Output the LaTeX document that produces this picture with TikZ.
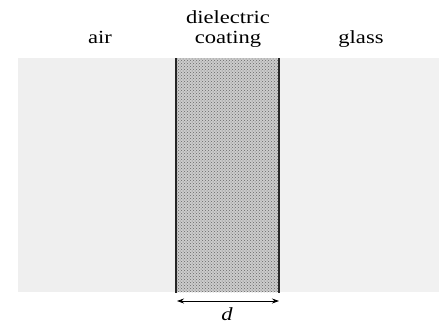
\documentclass[tikz,border=0pt]{standalone}
\usepackage{fontspec}
\newfontfamily\tms{Liberation Serif}
\usetikzlibrary{arrows.meta,patterns}
\definecolor{airgray}{HTML}{EFEFEF}
\definecolor{glassgray}{HTML}{F1F1F1}
\definecolor{coatgray}{HTML}{CCCCCC}
\tikzset{
  lbl/.style={inner sep=0pt, anchor=base, font=\tms\fontsize{18.5}{17}\selectfont, align=center},
  wall/.style={line width=2pt, black!85},
  dimarrow/.style={line width=0.8pt, {Stealth[length=7pt,width=5pt]}-{Stealth[length=7pt,width=5pt]}}
}
\begin{document}
\begin{tikzpicture}[x=1pt,y=-1pt]
\useasboundingbox (0,0) rectangle (443,329);
% regions
\fill[airgray] (18,58) rectangle (176,292);
\fill[glassgray] (279,58) rectangle (439,292);
\fill[coatgray] (176,58) rectangle (279,292);
\fill[pattern=crosshatch dots, pattern color=gray!80!black] (176,58) rectangle (279,292);
\draw[wall] (176,58) -- (176,293);
\draw[wall] (278.5,58) -- (278.5,293);
% labels
\node[lbl] (air) at (100,43) {\scalebox{1.22}[1]{air}};
\node[lbl] (diel) at (228,23.5) {\scalebox{1.22}[1]{dielectric}};
\node[lbl] (coat) at (228,43.5) {\scalebox{1.22}[1]{coating}};
\node[lbl] (glass) at (361,43) {\scalebox{1.22}[1]{glass}};
% dimension
\coordinate (dl) at (177,301);
\coordinate (dr) at (279,301);
\draw[dimarrow] (dl) -- (dr);
\node[lbl] (d) at (227,320) {\scalebox{1.22}[1]{\itshape d}};
\end{tikzpicture}
\end{document}
